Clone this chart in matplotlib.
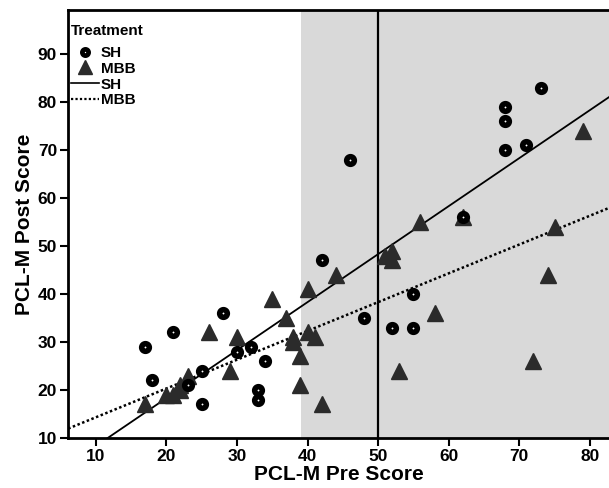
import matplotlib
matplotlib.use('Agg')
import matplotlib.pyplot as plt
from matplotlib.lines import Line2D
import numpy as np

plt.rcParams['font.family'] = ['Liberation Sans', 'DejaVu Sans']
plt.rcParams['font.weight'] = 'bold'

# SH group (circles)
sh_pre = [17, 18, 21, 28, 25, 25, 23, 30, 32, 34, 33, 33, 42, 46, 48, 52, 55, 55,
          62, 68, 68, 68, 71, 73]
sh_post = [29, 22, 32, 36, 24, 17, 21, 28, 29, 26, 20, 18, 47, 68, 35, 33, 33, 40,
           56, 79, 76, 70, 71, 83]

# MBB group (triangles)
mbb_pre = [17, 20, 21, 22, 22, 23, 26, 29, 30, 35, 37, 38, 38, 39, 39, 40, 40, 41,
           42, 44, 51, 52, 52, 53, 56, 58, 62, 72, 74, 75, 79]
mbb_post = [17, 19, 19, 20, 21, 23, 32, 24, 31, 39, 35, 30, 31, 27, 21, 41, 32, 31,
            17, 44, 48, 49, 47, 24, 55, 36, 56, 26, 44, 54, 74]

# fitted lines (intercept, slope)
sh_fit = (-1.7, 1.0)
mbb_fit = (8.3, 0.6)

cutoff = 50
shade_start = 39.1

fig = plt.figure(figsize=(6.09, 4.88), dpi=100)
ax = fig.add_axes([0.112, 0.1025, 0.888, 0.8775])

xmin, xmax = 6.1, 82.7
ymin, ymax = 10, 99.2

ax.axvspan(shade_start, xmax + 5, color='#d9d9d9', lw=0, zorder=0)
ax.axvline(cutoff, color='black', lw=1.6, zorder=1)

xs = np.array([xmin, xmax])
ax.plot(xs, sh_fit[0] + sh_fit[1] * xs, color='black', lw=1.3, zorder=2)
ax.plot(xs, mbb_fit[0] + mbb_fit[1] * xs, color='black', lw=1.8,
        linestyle=(0, (1, 1)), zorder=2)

ax.plot(mbb_pre, mbb_post, linestyle='none', marker='^', markersize=11,
        color='#2b2b2b', zorder=3)
ax.plot(sh_pre, sh_post, linestyle='none', marker='o', markersize=5.5,
        markerfacecolor='white', markeredgecolor='black', markeredgewidth=4,
        zorder=4)

ax.set_xlim(xmin, xmax)
ax.set_ylim(ymin, ymax)
ax.set_xticks([10, 20, 30, 40, 50, 60, 70, 80])
ax.set_yticks([10, 20, 30, 40, 50, 60, 70, 80, 90])
ax.tick_params(direction='out', length=6, width=1.5, labelsize=12.5, pad=2)
for lab in ax.get_xticklabels() + ax.get_yticklabels():
    lab.set_fontweight('bold')

ax.spines['right'].set_visible(False)
for s in ['left', 'bottom', 'top']:
    ax.spines[s].set_linewidth(2)

ax.set_xlabel('PCL-M Pre Score', fontsize=15, fontweight='bold', labelpad=1)
ax.set_ylabel('PCL-M Post Score', fontsize=15, fontweight='bold', labelpad=3)

handles = [
    Line2D([], [], linestyle='none', marker='o', markersize=4.5,
           markerfacecolor='white', markeredgecolor='black', markeredgewidth=3.4),
    Line2D([], [], linestyle='none', marker='^', markersize=10.5, color='#2b2b2b'),
    Line2D([], [], color='black', lw=1.2),
    Line2D([], [], color='black', lw=1.6, linestyle=(0, (1, 1))),
]
leg = ax.legend(handles, ['SH', 'MBB', 'SH', 'MBB'], title='Treatment',
                loc='upper left', bbox_to_anchor=(0.0, 0.975), frameon=False,
                fontsize=11, handlelength=1.8, handletextpad=0.15,
                labelspacing=0.12, borderaxespad=0.1, borderpad=0.1,
                title_fontproperties={'weight': 'bold', 'size': 11})
leg._legend_box.align = 'left'
leg._legend_box.sep = 6
for t in leg.get_texts():
    t.set_fontweight('bold')

fig.savefig('out.png', dpi=100)
